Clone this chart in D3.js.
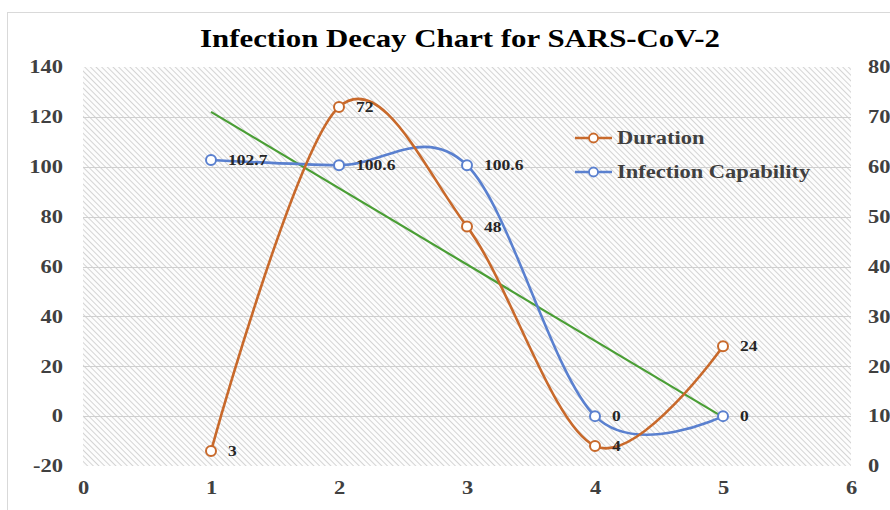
<!DOCTYPE html>
<html lang="en">
<head>
  <meta charset="UTF-8">
  <script src="https://cdnjs.cloudflare.com/ajax/libs/d3/7.8.5/d3.min.js"></script>
  <style>
    body { margin: 0; background: #fff; }
    svg { display: block; }
    text { font-family: "Liberation Serif", "Times New Roman", serif; font-weight: bold; }
  </style>
  <title>Infection Decay Chart</title>
</head>
<body>
  <script>
    // data
    const xs = [1, 2, 3, 4, 5];
    const duration = [3, 72, 48, 4, 24];            // right axis
    const capability = [102.7, 100.6, 100.6, 0, 0]; // left axis
    const trendX = [1, 5];
    const trendY = [122.0, -0.4];                   // linear trend of capability
    const leftTicks = [-20, 0, 20, 40, 60, 80, 100, 120, 140];
    const rightTicks = [0, 10, 20, 30, 40, 50, 60, 70, 80];
    const xTicks = [0, 1, 2, 3, 4, 5, 6];

    const w = 890;
    const h = 510;
    const plot = { left: 83, right: 851, top: 67, bottom: 466 };
    const stretch = 1.25; // text in the reference is drawn wide

    const orange = "#C8692B";
    const blue = "#5A80CF";
    const green = "#4A9E35";

    const svg = d3.select("body")
      .append("svg")
      .attr("width", w)
      .attr("height", h);

    function widen(sel) {
      sel.each(function () {
        const len = this.getComputedTextLength();
        d3.select(this)
          .attr("textLength", len * stretch)
          .attr("lengthAdjust", "spacingAndGlyphs");
      });
    }

    // hatch pattern for plot area
    const pat = svg.append("defs").append("pattern")
      .attr("id", "hatch")
      .attr("patternUnits", "userSpaceOnUse")
      .attr("width", 4)
      .attr("height", 4)
      .attr("patternTransform", "rotate(-45)");
    pat.append("rect").attr("width", 4).attr("height", 4).attr("fill", "#fdfdfd");
    pat.append("line")
      .attr("x1", 0.5).attr("y1", 0).attr("x2", 0.5).attr("y2", 4)
      .attr("stroke", "#d4d4d4")
      .attr("stroke-width", 1);

    // chart border
    svg.append("rect")
      .attr("x", 7.5).attr("y", 12.5)
      .attr("width", 900).attr("height", 520)
      .attr("fill", "none")
      .attr("stroke", "#d9d9d9");

    const xScale = d3.scaleLinear().domain([0, 6]).range([plot.left, plot.right]);
    const yLeft = d3.scaleLinear().domain([-20, 140]).range([plot.bottom, plot.top]);
    const yRight = d3.scaleLinear().domain([0, 80]).range([plot.bottom, plot.top]);

    svg.append("rect")
      .attr("x", plot.left).attr("y", plot.top)
      .attr("width", plot.right - plot.left)
      .attr("height", plot.bottom - plot.top)
      .attr("fill", "url(#hatch)");

    // gridlines
    svg.append("g")
      .selectAll("line")
      .data(leftTicks.slice(1, -1))
      .enter()
      .append("line")
      .attr("x1", plot.left).attr("x2", plot.right)
      .attr("y1", d => Math.round(yLeft(d)) + 0.5)
      .attr("y2", d => Math.round(yLeft(d)) + 0.5)
      .attr("stroke", "#cfcfcf")
      .attr("stroke-width", 1);

    // title
    svg.append("text")
      .attr("x", 460).attr("y", 47)
      .attr("text-anchor", "middle")
      .attr("font-size", 25)
      .attr("fill", "#000")
      .text("Infection Decay Chart for SARS-CoV-2")
      .each(function () {
        d3.select(this).attr("textLength", 520).attr("lengthAdjust", "spacingAndGlyphs");
      });

    // axes (labels only, Excel style)
    const fmt = d3.format("d");
    const leftAxis = d3.axisLeft(yLeft).tickValues(leftTicks).tickFormat(d => String(d)).tickSize(0).tickPadding(20);
    const rightAxis = d3.axisRight(yRight).tickValues(rightTicks).tickFormat(fmt).tickSize(0).tickPadding(17);
    const bottomAxis = d3.axisBottom(xScale).tickValues(xTicks).tickFormat(fmt).tickSize(0).tickPadding(15);

    [[leftAxis, "translate(" + plot.left + ",0)"],
     [rightAxis, "translate(" + plot.right + ",0)"],
     [bottomAxis, "translate(0," + plot.bottom + ")"]].forEach(([ax, tr]) => {
      const g = svg.append("g").attr("transform", tr).call(ax);
      g.select(".domain").remove();
      g.selectAll("text")
        .attr("font-family", "Liberation Serif, Times New Roman, serif")
        .attr("font-weight", "bold")
        .attr("font-size", 18)
        .attr("fill", "#404040")
        .call(widen);
    });

    const curve = d3.curveCatmullRom.alpha(0);

    // trend line
    svg.append("path")
      .datum(trendX.map((x, i) => [x, trendY[i]]))
      .attr("d", d3.line().x(d => xScale(d[0])).y(d => yLeft(d[1])))
      .attr("fill", "none")
      .attr("stroke", green)
      .attr("stroke-width", 2.2);

    function series(vals, yScale, color) {
      const pts = xs.map((x, i) => [x, vals[i]]);
      svg.append("path")
        .datum(pts)
        .attr("d", d3.line().curve(curve).x(d => xScale(d[0])).y(d => yScale(d[1])))
        .attr("fill", "none")
        .attr("stroke", color)
        .attr("stroke-width", 2.6);
      svg.append("g")
        .selectAll("circle")
        .data(pts)
        .enter()
        .append("circle")
        .attr("cx", d => xScale(d[0]))
        .attr("cy", d => yScale(d[1]))
        .attr("r", 5)
        .attr("fill", "#fff")
        .attr("stroke", color)
        .attr("stroke-width", 2);
      return pts;
    }

    const bluePts = series(capability, yLeft, blue);
    const orangePts = series(duration, yRight, orange);

    // data labels
    function labels(pts, yScale) {
      svg.append("g")
        .selectAll("text")
        .data(pts)
        .enter()
        .append("text")
        .attr("x", d => xScale(d[0]) + 17)
        .attr("y", d => yScale(d[1]) + 5)
        .attr("font-size", 14)
        .attr("fill", "#262626")
        .text(d => d[1])
        .call(widen);
    }
    labels(bluePts, yLeft);
    labels(orangePts, yRight);

    // legend
    const legend = svg.append("g");
    [["Duration", orange, 138], ["Infection Capability", blue, 172]].forEach(([name, color, y]) => {
      legend.append("line")
        .attr("x1", 575).attr("x2", 612)
        .attr("y1", y).attr("y2", y)
        .attr("stroke", color)
        .attr("stroke-width", 2.4);
      legend.append("circle")
        .attr("cx", 593.5).attr("cy", y)
        .attr("r", 4.5)
        .attr("fill", "#fff")
        .attr("stroke", color)
        .attr("stroke-width", 1.8);
      legend.append("text")
        .attr("x", 617).attr("y", y + 6)
        .attr("font-size", 18)
        .attr("fill", "#404040")
        .text(name)
        .call(widen);
    });
  </script>
</body>
</html>
